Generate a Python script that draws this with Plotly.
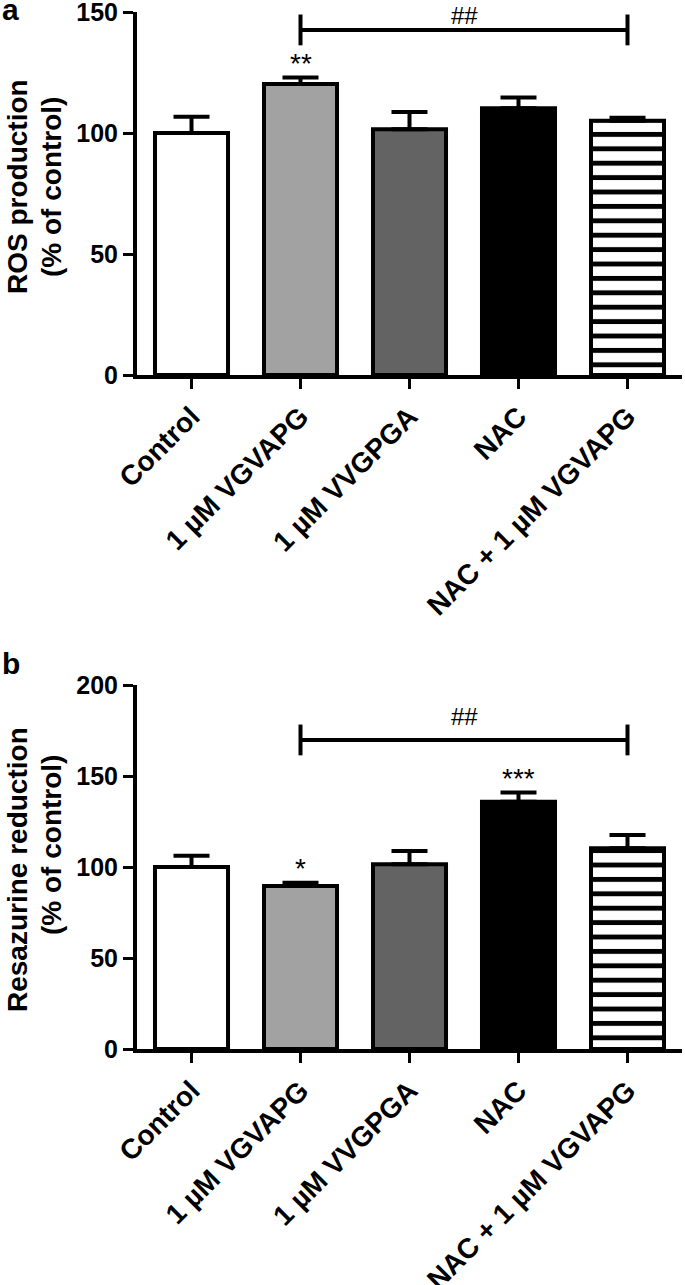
import plotly.graph_objects as go

# ---------------- data ----------------
categories = ["Control", "1 µM VGVAPG", "1 µM VVGPGA", "NAC", "NAC + 1 µM VGVAPG"]

ros_values = [100.0, 120.2, 101.5, 110.2, 105.1]
ros_errors = [6.7, 2.7, 7.2, 4.5, 1.2]
ros_stars = ["", "**", "", "", ""]
ros_bracket = [1, 4]          # compared category indexes
ros_bracket_y = 142.6
ros_bracket_label = "##"

res_values = [100.0, 89.6, 101.5, 135.9, 110.3]
res_errors = [6.2, 1.8, 7.3, 5.1, 7.3]
res_stars = ["", "*", "", "***", ""]
res_bracket = [1, 4]
res_bracket_y = 169.8
res_bracket_label = "##"

ros_ticks = [0, 50, 100, 150]
res_ticks = [0, 50, 100, 150, 200]

# ---------------- style ----------------
W, H = 685, 1285
FONT = "Liberation Sans, Arial, Helvetica, sans-serif"
fills = ["#ffffff", "#a2a2a2", "#636363", "#000000", "#ffffff"]
striped = [False, False, False, False, True]

def px_x(p):
    return p / W

def px_y(p):
    return 1 - p / H

x_dom = [px_x(137), px_x(682)]
ya_dom = [px_y(375), px_y(12)]
yb_dom = [px_y(1049), px_y(685)]

fig = go.Figure()

def add_panel(values, errors, stars, bracket, bracket_y, bracket_label,
              xa, ya, star_shift, hash_shift):
    for i in range(len(categories)):
        marker = dict(color=fills[i], line=dict(color="black", width=4))
        if striped[i]:
            marker["pattern"] = dict(shape="-", fgcolor="black", bgcolor="white",
                                     fgopacity=1, size=14.4, solidity=0.34,
                                     fillmode="replace")
        fig.add_trace(go.Bar(
            x=[i], y=[values[i]], width=0.67, marker=marker,
            error_y=dict(type="data", symmetric=False, array=[errors[i]],
                         arrayminus=[0], color="black", thickness=4, width=18),
            xaxis=xa, yaxis=ya, showlegend=False, hoverinfo="skip",
        ))
    fig.add_trace(go.Scatter(
        x=bracket, y=[bracket_y, bracket_y], mode="lines+markers",
        line=dict(color="black", width=4),
        marker=dict(symbol="line-ns", size=22, color="black",
                    line=dict(color="black", width=4)),
        xaxis=xa, yaxis=ya, showlegend=False, hoverinfo="skip", cliponaxis=False,
    ))
    for i, s in enumerate(stars):
        if s:
            fig.add_annotation(x=i, y=values[i] + errors[i], xref=xa, yref=ya,
                               text=s, showarrow=False, yanchor="middle",
                               yshift=star_shift,
                               font=dict(family=FONT, size=28, color="black"))
    fig.add_annotation(x=(bracket[0] + bracket[1]) / 2, y=bracket_y,
                       xref=xa, yref=ya, text=bracket_label, showarrow=False,
                       yanchor="middle", yshift=hash_shift,
                       font=dict(family=FONT, size=24, color="black"))

add_panel(ros_values, ros_errors, ros_stars, ros_bracket, ros_bracket_y,
          ros_bracket_label, "x", "y", 14, 14)
add_panel(res_values, res_errors, res_stars, res_bracket, res_bracket_y,
          res_bracket_label, "x2", "y2", 14, 23)

axis_common = dict(showline=True, linecolor="black", linewidth=4,
                   ticks="outside", ticklen=10, tickwidth=3, tickcolor="black",
                   showgrid=False, zeroline=False, mirror=False, automargin=False,
                   ticklabeloverflow="allow")

xcommon = dict(axis_common, range=[-0.5, 4.5], tickvals=list(range(len(categories))),
               ticktext=categories, tickangle=-45, domain=x_dom,
               tickfont=dict(family=FONT, size=28, color="black", weight="bold"))

fig.update_layout(
    template="none",
    width=W, height=H,
    margin=dict(l=0, r=0, t=0, b=0, pad=0, autoexpand=False),
    paper_bgcolor="white", plot_bgcolor="white",
    bargap=0, barmode="overlay",
    xaxis=dict(xcommon, anchor="y"),
    xaxis2=dict(xcommon, anchor="y2"),
    yaxis=dict(axis_common, range=[0, 150], tickvals=ros_ticks, domain=ya_dom,
               anchor="x",
               tickfont=dict(family=FONT, size=25, color="black", weight="bold")),
    yaxis2=dict(axis_common, range=[0, 200], tickvals=res_ticks, domain=yb_dom,
                anchor="x2",
                tickfont=dict(family=FONT, size=25, color="black", weight="bold")),
)

title_font = dict(family=FONT, size=28, color="black", weight="bold")
titles = [
    ("ROS production", 17, 187),
    ("(% of control)", 51, 187),
    ("Resazurine reduction", 17, 870),
    ("(% of control)", 51, 845),
]
for txt, cx, cy in titles:
    fig.add_annotation(x=px_x(cx), y=px_y(cy), xref="paper", yref="paper",
                       text=txt, textangle=-90, showarrow=False,
                       xanchor="center", yanchor="middle", font=title_font)

letter_font = dict(family=FONT, size=30, color="black", weight="bold")
fig.add_annotation(x=px_x(0), y=px_y(28), xref="paper", yref="paper", text="a",
                   showarrow=False, xanchor="left", yanchor="bottom", font=letter_font)
fig.add_annotation(x=px_x(0), y=px_y(682), xref="paper", yref="paper", text="b",
                   showarrow=False, xanchor="left", yanchor="bottom", font=letter_font)

fig.write_html("out.html", config={"displayModeBar": False, "staticPlot": True},
               post_script="document.body.style.margin='0px';")
